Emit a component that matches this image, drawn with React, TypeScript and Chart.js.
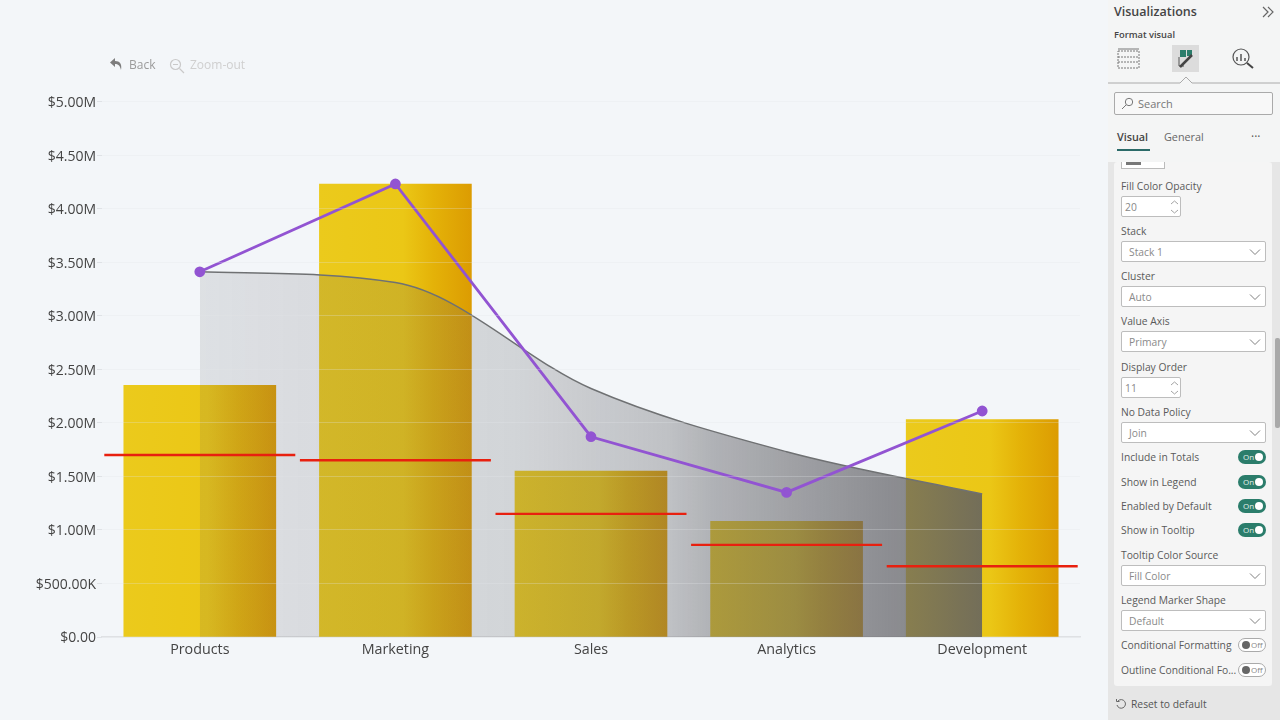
import React, { useEffect, useRef } from "react";
import Chart from "chart.js/auto";

const categories = ["Products", "Marketing", "Sales", "Analytics", "Development"];
const barValues = [2.35, 4.23, 1.55, 1.08, 2.03];
const areaValues = [3.41, 3.31, 2.32, 1.73, 1.335];
const lineValues = [3.41, 4.23, 1.87, 1.35, 2.11];
const targetValues = [1.7, 1.65, 1.15, 0.86, 0.66];
const tickLabels: Record<number, string> = {
  0: "$0.00",
  0.5: "$500.00K",
  1: "$1.00M",
  1.5: "$1.50M",
  2: "$2.00M",
  2.5: "$2.50M",
  3: "$3.00M",
  3.5: "$3.50M",
  4: "$4.00M",
  4.5: "$4.50M",
  5: "$5.00M",
};

const FONT = '"Open Sans", sans-serif';
const BAR_WIDTH = 152;

const barFill = (c: any) => {
  const chart = c.chart;
  if (!chart.chartArea || c.dataIndex === undefined) return "#ecca1a";
  const mid = chart.scales.x.getPixelForValue(c.dataIndex);
  const g = chart.ctx.createLinearGradient(mid - BAR_WIDTH / 2, 0, mid + BAR_WIDTH / 2, 0);
  g.addColorStop(0, "#ebca1c");
  g.addColorStop(0.55, "#ebc716");
  g.addColorStop(0.75, "#e4b208");
  g.addColorStop(1, "#dc9c02");
  return g;
};

const areaFill = (c: any) => {
  const chart = c.chart;
  if (!chart.chartArea) return "rgba(95,95,100,0.15)";
  const left = chart.scales.x.getPixelForValue(0);
  const right = chart.scales.x.getPixelForValue(categories.length - 1);
  const g = chart.ctx.createLinearGradient(left, 0, right, 0);
  g.addColorStop(0, "rgba(95,95,100,0.14)");
  g.addColorStop(0.115, "rgba(95,95,100,0.17)");
  g.addColorStop(0.4, "rgba(95,95,100,0.22)");
  g.addColorStop(0.6, "rgba(95,95,100,0.35)");
  g.addColorStop(0.655, "rgba(95,95,100,0.45)");
  g.addColorStop(0.845, "rgba(95,95,100,0.66)");
  g.addColorStop(0.91, "rgba(95,95,100,0.72)");
  g.addColorStop(1, "rgba(95,95,100,0.86)");
  return g;
};

const RevenueChart = () => {
  const ref = useRef<HTMLCanvasElement>(null);

  useEffect(() => {
    const chart = new Chart(ref.current as HTMLCanvasElement, {
      type: "bar",
      data: {
        labels: categories,
        datasets: [
          {
            type: "bar",
            label: "Bars",
            data: barValues,
            backgroundColor: barFill,
            barThickness: BAR_WIDTH,
            order: 4,
          },
          {
            type: "line",
            label: "Area",
            data: areaValues,
            cubicInterpolationMode: "monotone",
            borderColor: "#6f7173",
            borderWidth: 1.5,
            backgroundColor: areaFill,
            fill: "origin",
            pointRadius: 0,
            order: 3,
          },
          {
            type: "line",
            label: "Target",
            data: targetValues,
            showLine: false,
            pointStyle: "line",
            pointRadius: 95.5,
            pointBorderWidth: 2.4,
            pointBorderColor: "#e8200f",
            clip: false,
            order: 2,
          },
          {
            type: "line",
            label: "Actual",
            data: lineValues,
            borderColor: "#9254d2",
            borderWidth: 2.8,
            pointRadius: 4,
            pointBackgroundColor: "#9254d2",
            pointBorderColor: "#9254d2",
            order: 1,
          },
        ],
      },
      options: {
        animation: false,
        responsive: false,
        maintainAspectRatio: false,
        // the long red dashes would otherwise push the plot inwards
        layout: { autoPadding: false, padding: { top: 101.5, right: 25, left: 0, bottom: 0 } },
        plugins: { legend: { display: false }, tooltip: { enabled: false } },
        scales: {
          x: {
            grid: { display: false },
            border: { color: "#dfe1e4", width: 1.5 },
            ticks: { color: "#444", font: { family: FONT, size: 14.3 }, padding: -4 },
            afterFit: (s: any) => {
              s.height = 83;
              s.paddingLeft = 0;
              s.paddingRight = 0;
            },
          },
          y: {
            min: 0,
            max: 5,
            grid: { color: "rgba(226,230,235,0.28)", z: 1, tickLength: 5, tickColor: "#dfe2e6" },
            border: { display: false },
            ticks: {
              stepSize: 0.5,
              color: "#444",
              padding: 1,
              labelOffset: 1.5,
              font: { family: FONT, size: 14 },
              callback: (v: any) => tickLabels[v as number],
            },
            afterFit: (s: any) => {
              s.width = 102;
              s.paddingTop = 0;
              s.paddingBottom = 0;
            },
          },
        },
      },
    } as any);
    return () => chart.destroy();
  }, []);

  return <canvas ref={ref} width={1105} height={720} style={{ position: "absolute", left: 0, top: 0 }} />;
};

const Txt = ({ x, y, size = 10.3, color = "#5a5a5a", weight = 400, children }: any) => (
  <div
    style={{
      position: "absolute",
      left: x,
      top: y,
      fontSize: size,
      color,
      fontWeight: weight,
      lineHeight: "14px",
      whiteSpace: "nowrap",
      fontFamily: FONT,
    }}
  >
    {children}
  </div>
);

const Chevron = ({ x, y }: any) => (
  <svg style={{ position: "absolute", left: x, top: y }} width="12" height="8">
    <path d="M1 1.5 L6 6.5 L11 1.5" fill="none" stroke="#808080" strokeWidth="1" />
  </svg>
);

const Dropdown = ({ y, value }: any) => (
  <div
    style={{
      position: "absolute",
      left: 1121,
      top: y,
      width: 143,
      height: 19,
      background: "#fff",
      border: "1px solid #bdbdbd",
      borderRadius: 2,
    }}
  >
    <Txt x={7} y={3} color="#8a8a8a">
      {value}
    </Txt>
    <Chevron x={127} y={6} />
  </div>
);

const Spinner = ({ y, value }: any) => (
  <div
    style={{
      position: "absolute",
      left: 1121,
      top: y,
      width: 58,
      height: 19,
      background: "#fff",
      border: "1px solid #bdbdbd",
      borderRadius: 2,
    }}
  >
    <Txt x={3} y={3} color="#888">
      {value}
    </Txt>
    <svg style={{ position: "absolute", left: 48, top: 2 }} width="9" height="16">
      <path d="M1 5 L4.5 2 L8 5 M1 11 L4.5 14 L8 11" fill="none" stroke="#999" strokeWidth="0.9" />
    </svg>
  </div>
);

const Toggle = ({ y, on }: any) => (
  <div
    style={{
      position: "absolute",
      left: 1238,
      top: y,
      width: on ? 28 : 26,
      height: on ? 14 : 12,
      background: on ? "#2b7d6b" : "#fff",
      border: on ? "none" : "1px solid #aaa",
      borderRadius: 8,
    }}
  >
    <div
      style={{
        position: "absolute",
        left: on ? 17 : 3,
        top: on ? 3 : 2,
        width: 8,
        height: 8,
        borderRadius: 4,
        background: on ? "#fff" : "#666",
      }}
    />
    <Txt x={on ? 5 : 12} y={on ? 0 : -1} size={8} color={on ? "#e4f0ec" : "#888"}>
      {on ? "On" : "Off"}
    </Txt>
  </div>
);

const dropdownRows = [
  { label: "Stack", value: "Stack 1", y: 224 },
  { label: "Cluster", value: "Auto", y: 269 },
  { label: "Value Axis", value: "Primary", y: 314 },
  { label: "No Data Policy", value: "Join", y: 405 },
  { label: "Tooltip Color Source", value: "Fill Color", y: 548 },
  { label: "Legend Marker Shape", value: "Default", y: 593 },
];
const spinnerRows = [
  { label: "Fill Color Opacity", value: "20", y: 179 },
  { label: "Display Order", value: "11", y: 360 },
];
const toggleRows = [
  { label: "Include in Totals", on: true, y: 450 },
  { label: "Show in Legend", on: true, y: 475 },
  { label: "Enabled by Default", on: true, y: 499 },
  { label: "Show in Tooltip", on: true, y: 523 },
  { label: "Conditional Formatting", on: false, y: 638 },
  { label: "Outline Conditional Fo...", on: false, y: 663 },
];

const Sidebar = () => (
  <>
    <div style={{ position: "absolute", left: 1108, top: 0, width: 172, height: 720, background: "#f4f5f5" }} />
    <div style={{ position: "absolute", left: 1108, top: 162, width: 172, height: 558, background: "#e6e6e6" }} />
    <div style={{ position: "absolute", left: 1114, top: 162, width: 158, height: 524, background: "#f5f5f5", borderRadius: 3 }} />
    <div style={{ position: "absolute", left: 1275, top: 338, width: 5, height: 90, background: "#a9a9a9", borderRadius: 2 }} />

    <Txt x={1114} y={5} size={12.5} weight={600} color="#444">
      Visualizations
    </Txt>
    <svg style={{ position: "absolute", left: 1262, top: 6 }} width="12" height="12">
      <path d="M1 1 L6 6 L1 11 M6 1 L11 6 L6 11" fill="none" stroke="#666" strokeWidth="1.2" />
    </svg>
    <Txt x={1114} y={28} size={9.3} weight={600} color="#444">
      Format visual
    </Txt>

    <svg style={{ position: "absolute", left: 1108, top: 40 }} width="172" height="46">
      <g fill="none" stroke="#777" strokeWidth="1" strokeDasharray="2 1">
        <rect x="10" y="11" width="21" height="17" />
        <path d="M10 17 H31 M10 22 H31" />
      </g>
      <path d="M10 9 H31" stroke="#777" />
      <rect x="64" y="5" width="27" height="27" fill="#dcdcdc" />
      <rect x="72" y="10" width="6" height="7" fill="#2b7d6b" />
      <rect x="79" y="10" width="5" height="6" fill="#2b7d6b" />
      <path d="M71 17 V26 H76" fill="none" stroke="#555" />
      <path d="M72 27 L84 15" stroke="#444" strokeWidth="2.5" />
      <circle cx="133" cy="17" r="8" fill="none" stroke="#555" strokeWidth="1.2" />
      <path d="M129 21 V17 M133 21 V14 M137 21 V18" stroke="#555" strokeWidth="1.5" />
      <path d="M139 23 L145 28" stroke="#444" strokeWidth="2" />
      <path d="M0 43 H72 L78 37 L84 43 H172" fill="none" stroke="#aaa" />
    </svg>

    <div
      style={{
        position: "absolute",
        left: 1114,
        top: 92,
        width: 157,
        height: 21,
        background: "#f8f8f8",
        border: "1px solid #aaa",
        borderRadius: 2,
      }}
    >
      <svg style={{ position: "absolute", left: 6, top: 4 }} width="13" height="13">
        <circle cx="8" cy="5" r="3.7" fill="none" stroke="#777" />
        <path d="M5 8 L1 12" stroke="#777" />
      </svg>
      <Txt x={23} y={4} size={11} color="#777">
        Search
      </Txt>
    </div>

    <Txt x={1117} y={130} size={10.8} weight={600} color="#444">
      Visual
    </Txt>
    <Txt x={1164} y={130} size={10.8} color="#666">
      General
    </Txt>
    <Txt x={1251} y={130} size={12} color="#555">
      ···
    </Txt>
    <div style={{ position: "absolute", left: 1117, top: 149, width: 33, height: 1.5, background: "#2b6a68" }} />

    <div
      style={{
        position: "absolute",
        left: 1121,
        top: 158,
        width: 44,
        height: 11,
        background: "#fff",
        border: "1px solid #bbb",
        borderTop: "none",
        boxSizing: "border-box",
      }}
    >
      <div style={{ position: "absolute", left: 4, top: 3, width: 15, height: 4, background: "#777" }} />
    </div>
    <div style={{ position: "absolute", left: 1108, top: 152, width: 172, height: 10, background: "#f4f5f5" }} />

    {spinnerRows.map((r) => (
      <React.Fragment key={r.label}>
        <Txt x={1121} y={r.y}>
          {r.label}
        </Txt>
        <Spinner y={r.y + 17} value={r.value} />
      </React.Fragment>
    ))}
    {dropdownRows.map((r) => (
      <React.Fragment key={r.label}>
        <Txt x={1121} y={r.y}>
          {r.label}
        </Txt>
        <Dropdown y={r.y + 17} value={r.value} />
      </React.Fragment>
    ))}
    {toggleRows.map((r) => (
      <React.Fragment key={r.label}>
        <Txt x={1121} y={r.y}>
          {r.label}
        </Txt>
        <Toggle y={r.y} on={r.on} />
      </React.Fragment>
    ))}

    <svg style={{ position: "absolute", left: 1115, top: 698 }} width="12" height="12">
      <path d="M3 3 A4.3 4.3 0 1 1 2 7 M1.5 1 V3.5 H4.5" fill="none" stroke="#666" />
    </svg>
    <Txt x={1131} y={697} color="#555">
      Reset to default
    </Txt>
  </>
);

const Toolbar = () => (
  <>
    <svg style={{ position: "absolute", left: 109, top: 57 }} width="14" height="14">
      <path d="M6 1 L1 5.5 L6 10 V7 C9 7 11 8.5 12 13 C13 7 11 4 6 4 Z" fill="#7d7d7d" />
    </svg>
    <Txt x={129} y={58} size={12} color="#9b9b9b">
      Back
    </Txt>
    <svg style={{ position: "absolute", left: 169, top: 58 }} width="16" height="16">
      <circle cx="6.5" cy="6.5" r="5" fill="none" stroke="#c9c9c9" strokeWidth="1.2" />
      <path d="M4 6.5 H9 M10.5 10.5 L15 15" stroke="#c9c9c9" strokeWidth="1.2" />
    </svg>
    <Txt x={190} y={58} size={12} color="#cfcfcf">
      Zoom-out
    </Txt>
  </>
);

export default function App() {
  return (
    <div style={{ position: "fixed", left: 0, top: 0, width: 1280, height: 720, overflow: "hidden", background: "#f3f6f9" }}>
      <RevenueChart />
      <Toolbar />
      <Sidebar />
    </div>
  );
}
